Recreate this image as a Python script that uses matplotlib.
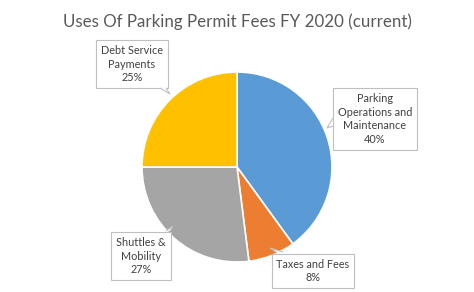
import matplotlib
matplotlib.use("Agg")
import matplotlib.pyplot as plt
from matplotlib.patches import Polygon

categories = ["Parking\nOperations and\nMaintenance", "Taxes and Fees", "Shuttles &\nMobility", "Debt Service\nPayments"]
values = [40, 8, 27, 25]
colors = ["#5B9BD5", "#ED7D31", "#A5A5A5", "#FFC000"]

W, H = 474, 292
fig = plt.figure(figsize=(W / 100, H / 100), dpi=100)
fig.patch.set_facecolor("white")

def px(x, y):
    return (x / W, 1 - y / H)

# pie axes: center (237,167), radius 95
ax = fig.add_axes([142 / W, (H - 167 - 95) / H, 190 / W, 190 / H])
ax.pie(values, colors=colors, startangle=90, counterclock=False,
       wedgeprops=dict(edgecolor="white", linewidth=1.2))
ax.set_aspect("equal")
ax.set_xlim(-1, 1)
ax.set_ylim(-1, 1)

fig.text(*px(237, 22), "Uses Of Parking Permit Fees FY 2020 (current)",
         ha="center", va="center", fontsize=12.2, color="#595959", family="Lato")

label_pos = [(375, 119), (313, 271), (141, 256), (132, 64)]
pointers = [
    [(333, 118), (327, 128), (333, 126)],
    [(276, 252), (270, 248), (283, 252)],
    [(166, 231), (173, 226), (170, 231)],
    [(160, 88), (170, 94), (166, 88)],
]
for cat, v, (x, y), ptr in zip(categories, values, label_pos, pointers):
    fig.text(*px(x, y), f"{cat}\n{v}%", ha="center", va="center", fontsize=7.8,
             color="#404040", family="Lato", linespacing=1.3,
             bbox=dict(boxstyle="square,pad=0.45", facecolor="white", edgecolor="#BFBFBF", linewidth=0.8))
    poly = Polygon([px(*p) for p in ptr], closed=False, transform=fig.transFigure,
                   facecolor="white", edgecolor="#BFBFBF", linewidth=0.8, zorder=5)
    fig.add_artist(poly)

fig.savefig("out.png", dpi=100)
